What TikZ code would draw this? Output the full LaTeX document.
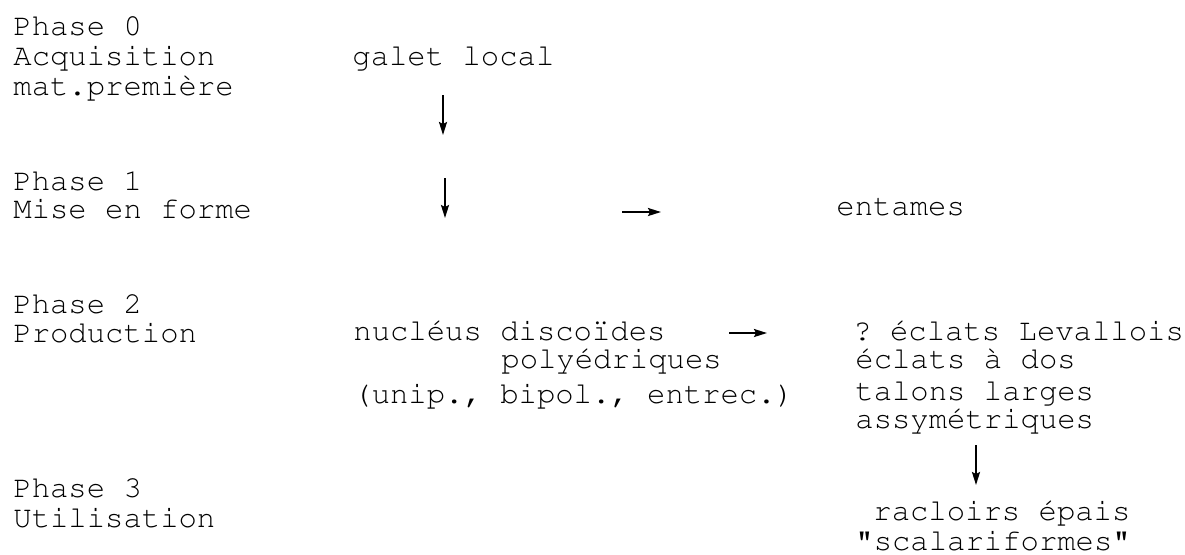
\documentclass[tikz,border=0pt]{standalone}
\usepackage[T1]{fontenc}
\usetikzlibrary{arrows.meta}
\frenchspacing
\begin{document}
\begin{tikzpicture}[x=0.5pt,y=-0.5pt,
  txt/.style={anchor=base west,inner sep=0pt,font=\fontfamily{pcr}\fontsize{15.3}{17}\selectfont},
  arr/.style={line width=1pt,-{Stealth[length=6.5pt,width=4pt,inset=1pt]}}]
\useasboundingbox (0,0) rectangle (1185,554);
% left column
\node[txt] (p0a) at (13,35) {Phase 0};
\node[txt] (p0b) at (13,65) {Acquisition};
\node[txt] (p0c) at (13,95) {mat.première};
\node[txt] (p1a) at (13,190) {Phase 1};
\node[txt] (p1b) at (13,218) {Mise en forme};
\node[txt] (p2a) at (13,313) {Phase 2};
\node[txt] (p2b) at (13,342) {Production};
\node[txt] (p3a) at (13,497) {Phase 3};
\node[txt] (p3b) at (13,527) {Utilisation};
% middle column
\node[txt] (galet) at (352,65) {galet local};
\node[txt] (nuc1) at (353,340) {nucléus discoïdes};
\node[txt] (nuc2) at (501,368) {polyédriques};
\node[txt] (nuc3) at (353,403) {(unip., bipol., entrec.)};
% right column
\node[txt] (entames) at (836,215) {entames};
\node[txt] (ecl1) at (853,340) {?\ éclats Levallois};
\node[txt] (ecl2) at (855,368) {éclats à dos};
\node[txt] (ecl3) at (855,400) {talons larges};
\node[txt] (ecl4) at (855,428) {assymétriques};
\node[txt] (rac1) at (873,520) {racloirs épais};
\node[txt] (rac2) at (855,550) {"scalariformes"};
% arrow ends
\coordinate (v1s) at (443,95);  \coordinate (v1e) at (443,135);
\coordinate (v2s) at (445,178); \coordinate (v2e) at (445,218);
\coordinate (h1s) at (622,212); \coordinate (h1e) at (661,212);
\coordinate (h2s) at (729,333); \coordinate (h2e) at (767,333);
\coordinate (v3s) at (976,445); \coordinate (v3e) at (976,485);
\draw[arr] (v1s) -- (v1e);
\draw[arr] (v2s) -- (v2e);
\draw[arr] (h1s) -- (h1e);
\draw[arr] (h2s) -- (h2e);
\draw[arr] (v3s) -- (v3e);
\end{tikzpicture}
\end{document}
